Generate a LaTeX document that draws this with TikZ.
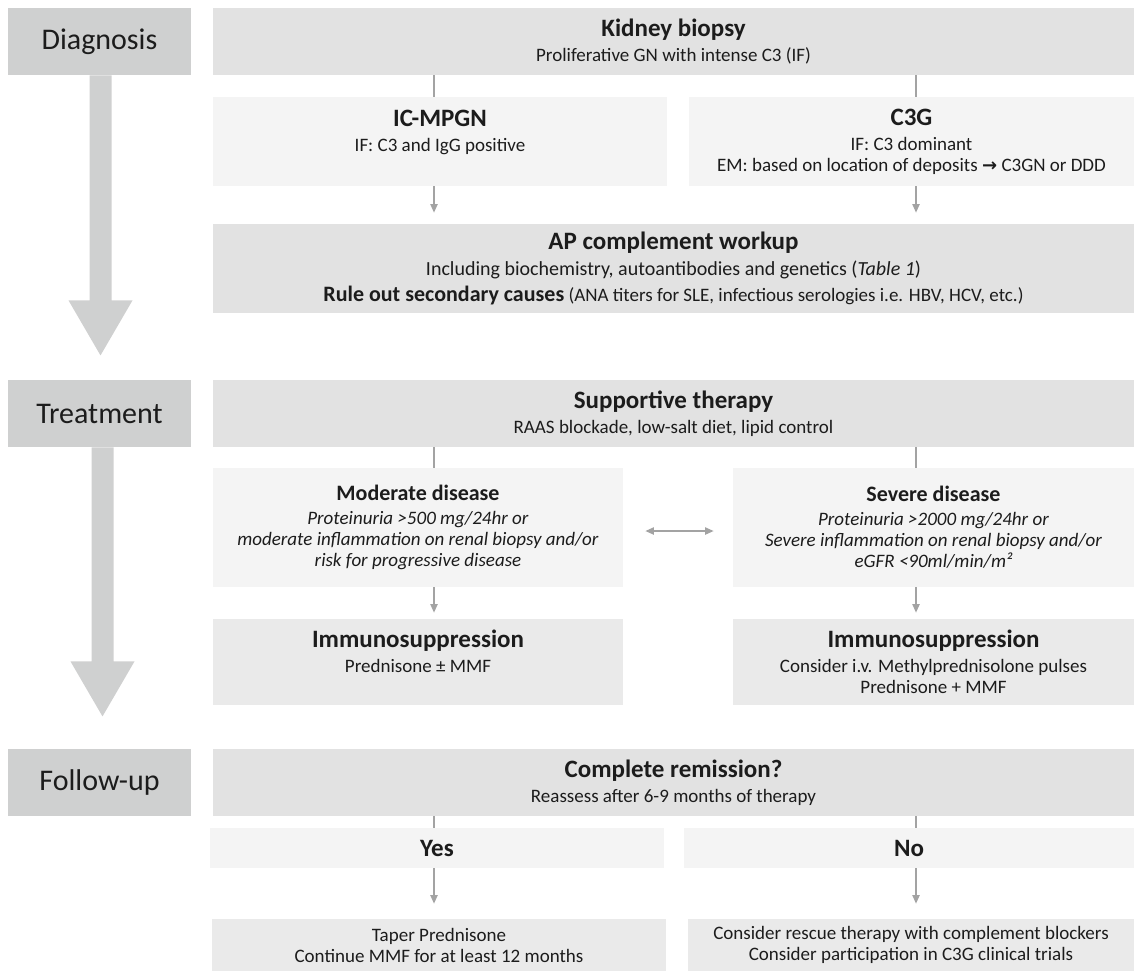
\documentclass[tikz,border=0pt]{standalone}
\usepackage{fontspec}
\setmainfont{Carlito}
\newfontfamily\arrowfont{DejaVu Sans}
\usetikzlibrary{arrows.meta}

\definecolor{stagegray}{HTML}{CFD0D0}
\definecolor{maingray}{HTML}{E2E2E2}
\definecolor{subgray}{HTML}{F4F4F4}
\definecolor{therapygray}{HTML}{EAEAEA}
\definecolor{linkgray}{HTML}{A3A3A3}
\definecolor{inkgray}{HTML}{1C1C1C}

\newcommand{\boxtitle}[1]{{\fontsize{12.5}{14}\selectfont\bfseries #1}}
\newcommand{\boxtitlesm}[1]{{\fontsize{11}{13}\selectfont\bfseries #1}}

\tikzset{
  stage/.style={fill=stagegray, minimum width=91.5pt, minimum height=33.5pt, inner sep=0pt, text=inkgray, font=\fontsize{15}{18}\selectfont},
  stagearrow/.style={fill=stagegray},
  box/.style={inner sep=0pt, align=center, text=inkgray, font=\fontsize{9.5}{10.5}\selectfont},
  mainbox/.style={box, fill=maingray},
  subbox/.style={box, fill=subgray},
  therapybox/.style={box, fill=therapygray},
  link/.style={draw=linkgray, line width=0.6pt},
  linkarrow/.style={link, -{Triangle[width=3.6pt,length=4.2pt]}},
  linkboth/.style={link, {Triangle[width=3.6pt,length=4.2pt]}-{Triangle[width=3.6pt,length=4.2pt]}}
}

\begin{document}
\begin{tikzpicture}[x=0.5pt, y=-0.5pt]
\useasboundingbox (0,0) rectangle (1134,971);

% stages
\node[stage] (diag) at (99.5,41.5) {Diagnosis};
\node[stage] (treat) at (99.5,413.5) {Treatment};
\node[stage] (follow) at (99.5,782.5) {Follow-up};
\fill[stagearrow] (diag.south) ++(-10,0) -- ++(22,0) -- ++(0,225) -- ++(21,0) -- ++(-32,55) -- ++(-32,-55) -- ++(21,0) -- cycle;
\fill[stagearrow] (treat.south) ++(-8,0) -- ++(22,0) -- ++(0,214) -- ++(21,0) -- ++(-32,55) -- ++(-32,-55) -- ++(21,0) -- cycle;

% columns of the connectors
\coordinate (colL) at (434,0);
\coordinate (colR) at (916,0);

% diagnosis
\node[mainbox, minimum width=460.5pt, minimum height=33.5pt] (biopsy) at (673.5,41.5)
  {\boxtitle{Kidney biopsy}\\[2pt] Proliferative GN with intense C3 (IF)};
\node[subbox, minimum width=227pt, minimum height=44.5pt] (icmpgn) at (440,141.5)
  {\boxtitle{IC-MPGN}\\[2pt] IF: C3 and IgG positive\\ \mbox{}};
\node[subbox, minimum width=222.5pt, minimum height=44.5pt] (c3g) at (911.5,141.5)
  {\boxtitle{C3G}\\[2pt] IF: C3 dominant\\ EM: based on location of deposits {\arrowfont\bfseries\small →} C3GN or DDD};
\node[mainbox, minimum width=460.5pt, minimum height=44.5pt] (ap) at (673.5,268.5)
  {\boxtitle{AP complement workup}\\[2.5pt] {\fontsize{10}{10.5}\selectfont Including biochemistry, autoantibodies and genetics (\textit{Table 1})}\\[2.5pt]
   {\fontsize{11}{11}\selectfont\bfseries Rule out secondary causes} (ANA titers for SLE, infectious serologies i.e. HBV, HCV, etc.)};

% treatment
\node[mainbox, minimum width=460.5pt, minimum height=33.5pt] (supp) at (673.5,413.5)
  {\boxtitle{Supportive therapy}\\[2pt] RAAS blockade, low-salt diet, lipid control};
\node[subbox, minimum width=205pt, minimum height=59.5pt] (moderate) at (418,527.5)
  {\boxtitlesm{Moderate disease}\\[1.5pt] \textit{Proteinuria >500 mg/24hr or}\\ \textit{moderate inflammation on renal biopsy and/or}\\ \textit{risk for progressive disease}};
\node[subbox, minimum width=200.5pt, minimum height=59.5pt] (severe) at (933.5,527.5)
  {\boxtitlesm{Severe disease}\\[1.5pt] \textit{Proteinuria >2000 mg/24hr or}\\ \textit{Severe inflammation on renal biopsy and/or}\\ \textit{eGFR <90ml/min/m²}};
\node[therapybox, minimum width=205pt, minimum height=43pt] (immL) at (418,662)
  {\boxtitle{Immunosuppression}\\[2pt] Prednisone ± MMF\\ \mbox{}};
\node[therapybox, minimum width=200.5pt, minimum height=43pt] (immR) at (933.5,662)
  {\boxtitle{Immunosuppression}\\[2pt] Consider i.v. Methylprednisolone pulses\\ Prednisone + MMF};

% follow-up
\node[mainbox, minimum width=460.5pt, minimum height=33.5pt] (remission) at (673.5,782.5)
  {\boxtitle{Complete remission?}\\[2pt] Reassess after 6-9 months of therapy};
\node[subbox, minimum width=227pt, minimum height=20pt] (yes) at (437,848) {\boxtitle{Yes}};
\node[subbox, minimum width=225pt, minimum height=20pt] (no) at (909,848) {\boxtitle{No}};
\node[therapybox, minimum width=227pt, minimum height=26pt] (taper) at (439,945)
  {Taper Prednisone\\ Continue MMF for at least 12 months};
\node[therapybox, minimum width=223pt, minimum height=26pt] (rescue) at (911,945)
  {Consider rescue therapy with complement blockers\\ Consider participation in C3G clinical trials};

% connectors
\draw[link] (biopsy.south -| colL) -- (icmpgn.north -| colL);
\draw[link] (biopsy.south -| colR) -- (c3g.north -| colR);
\draw[linkarrow, shorten >=5.5pt] (icmpgn.south -| colL) -- (ap.north -| colL);
\draw[linkarrow, shorten >=5.5pt] (c3g.south -| colR) -- (ap.north -| colR);

\draw[link] (supp.south -| colL) -- (moderate.north -| colL);
\draw[link] (supp.south -| colR) -- (severe.north -| colR);
\draw[linkboth, shorten <=11pt, shorten >=9.5pt] ([yshift=-1.75pt]moderate.east) -- ([yshift=-1.75pt]severe.west);
\draw[linkarrow, shorten >=3pt] (moderate.south -| colL) -- (immL.north -| colL);
\draw[linkarrow, shorten >=3pt] (severe.south -| colR) -- (immR.north -| colR);

\draw[link] (remission.south -| colL) -- (yes.north -| colL);
\draw[link] (remission.south -| colR) -- (no.north -| colR);
\draw[linkarrow, shorten >=7.5pt] (yes.south -| colL) -- (taper.north -| colL);
\draw[linkarrow, shorten >=7.5pt] (no.south -| colR) -- (rescue.north -| colR);

\end{tikzpicture}
\end{document}
